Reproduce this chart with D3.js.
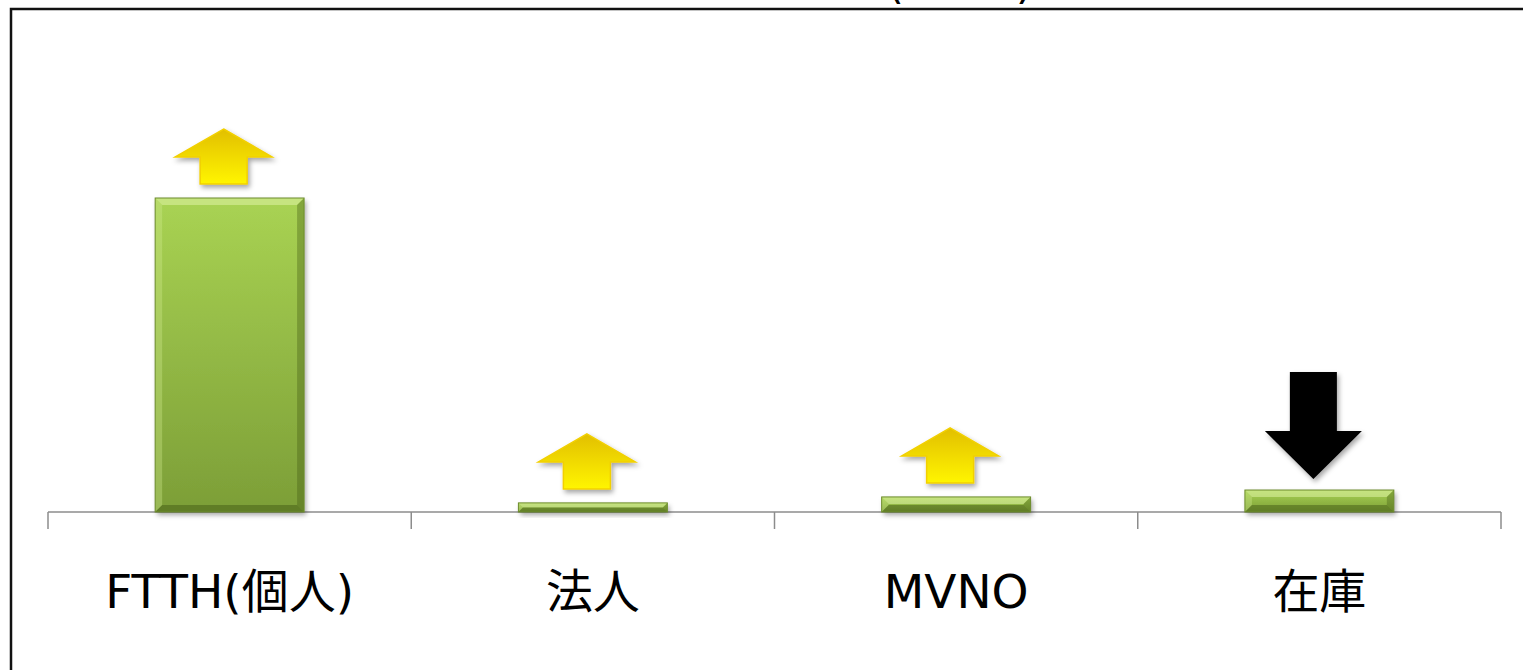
<!DOCTYPE html>
<html>
<head>
<meta charset="utf-8">
<script src="https://cdn.jsdelivr.net/npm/d3@7"></script>
<style>
  html, body { margin: 0; padding: 0; background: #fff; overflow: hidden; }
  svg { display: block; }
  text { font-family: "DejaVu Sans", "Noto Sans CJK JP", sans-serif; }
</style>
</head>
<body>
<svg id="chart"></svg>
<script>
// chart data
var categories = ["FTTH(個人)", "法人", "MVNO", "在庫"];
var values = [100, 2.9, 4.8, 7.0];
var trend = ["up", "up", "up", "down"];
var titleText = "(2013)";

var svgWidth = 1523, svgHeight = 670;
var margin = {top: 198, left: 48, right: 22, bottom: 158};

var svg = d3.select("#chart")
    .attr("width", svgWidth)
    .attr("height", svgHeight);

var defs = svg.append("defs");

// bar gradient
var gBar = defs.append("linearGradient").attr("id", "barGrad")
    .attr("x1", 0).attr("y1", 0).attr("x2", 0).attr("y2", 1);
gBar.append("stop").attr("offset", "0%").attr("stop-color", "#a9d353");
gBar.append("stop").attr("offset", "100%").attr("stop-color", "#7c9e37");

// up arrow gradient
var gUp = defs.append("linearGradient").attr("id", "upGrad")
    .attr("x1", 0).attr("y1", 0).attr("x2", 0).attr("y2", 1);
gUp.append("stop").attr("offset", "0%").attr("stop-color", "#e2bf00");
gUp.append("stop").attr("offset", "100%").attr("stop-color", "#fff500");

var shadow = defs.append("filter").attr("id", "shadow")
    .attr("x", "-20%").attr("y", "-20%").attr("width", "150%").attr("height", "180%");
shadow.append("feDropShadow")
    .attr("dx", 2).attr("dy", 3).attr("stdDeviation", 2.5)
    .attr("flood-color", "#000").attr("flood-opacity", 0.35);

// frame
svg.append("rect")
    .attr("x", 11).attr("y", 9)
    .attr("width", svgWidth + 20).attr("height", svgHeight + 20)
    .attr("fill", "none")
    .attr("stroke", "#111")
    .attr("stroke-width", 2.5);

// title (mostly above the visible area, as in the original)
svg.append("text")
    .attr("x", 1033).attr("y", -2)
    .attr("text-anchor", "end")
    .attr("font-size", 44)
    .attr("fill", "#000")
    .text(titleText);

var x = d3.scaleBand()
    .domain(categories)
    .range([margin.left, svgWidth - margin.right])
    .paddingInner(0.59)
    .paddingOuter(0.295);

var y = d3.scaleLinear()
    .domain([0, 100])
    .range([svgHeight - margin.bottom, margin.top]);

var base = y(0);
var step = x.step();
var bandStart = margin.left;

// axis line + ticks
var axisG = svg.append("g");
axisG.append("line")
    .attr("x1", bandStart).attr("x2", svgWidth - margin.right)
    .attr("y1", base).attr("y2", base)
    .attr("stroke", "#8c8c8c").attr("stroke-width", 1.5);
axisG.selectAll("line.tick")
    .data(d3.range(categories.length + 1))
    .enter().append("line")
    .attr("class", "tick")
    .attr("x1", function(i) { return bandStart + i * step; })
    .attr("x2", function(i) { return bandStart + i * step; })
    .attr("y1", base).attr("y2", base + 17)
    .attr("stroke", "#8c8c8c").attr("stroke-width", 1.5);

// bars
var bars = svg.selectAll("g.bar")
    .data(categories)
    .enter().append("g")
    .attr("class", "bar");

bars.each(function(c, i) {
    var g = d3.select(this);
    var x0 = x(c), w = x.bandwidth();
    var y0 = y(values[i]), h = base - y0;
    var b = Math.min(7, h / 2);

    g.append("rect")
        .attr("x", x0).attr("y", y0)
        .attr("width", w).attr("height", h)
        .attr("fill", "url(#barGrad)")
        .attr("filter", "url(#shadow)");

    // bevel edges
    var x1 = x0 + w, y1 = base;
    g.append("polygon")
        .attr("points", [[x0, y0], [x1, y0], [x1 - b, y0 + b], [x0 + b, y0 + b]].join(" "))
        .attr("fill", "#dff3a6").attr("opacity", 0.55);
    g.append("polygon")
        .attr("points", [[x0, y0], [x0 + b, y0 + b], [x0 + b, y1 - b], [x0, y1]].join(" "))
        .attr("fill", "#d2eb8e").attr("opacity", 0.35);
    g.append("polygon")
        .attr("points", [[x1, y0], [x1, y1], [x1 - b, y1 - b], [x1 - b, y0 + b]].join(" "))
        .attr("fill", "#3f5512").attr("opacity", 0.35);
    g.append("polygon")
        .attr("points", [[x0, y1], [x1, y1], [x1 - b, y1 - b], [x0 + b, y1 - b]].join(" "))
        .attr("fill", "#3f5512").attr("opacity", 0.45);
    g.append("rect")
        .attr("x", x0).attr("y", y0)
        .attr("width", w).attr("height", h)
        .attr("fill", "none")
        .attr("stroke", "#6d8c2c").attr("stroke-width", 1);

    // arrows
    var cx = x0 + w / 2 - 6;
    var headW = 97, headH = 28, shaftW = 47, shaftH = 27;
    var pts;
    if (trend[i] == "up") {
        var bot = y0 - 14;
        var top = bot - headH - shaftH;
        pts = [[cx, top], [cx + headW / 2, top + headH], [cx + shaftW / 2, top + headH],
               [cx + shaftW / 2, bot], [cx - shaftW / 2, bot], [cx - shaftW / 2, top + headH],
               [cx - headW / 2, top + headH]];
        g.append("polygon")
            .attr("points", pts.join(" "))
            .attr("fill", "url(#upGrad)")
            .attr("stroke", "#f2d000").attr("stroke-width", 1.5)
            .attr("filter", "url(#shadow)");
    } else {
        var tip = y0 - 11;
        var dHeadH = 48, dShaftH = 59;
        var sTop = tip - dHeadH - dShaftH;
        pts = [[cx - shaftW / 2, sTop], [cx + shaftW / 2, sTop], [cx + shaftW / 2, tip - dHeadH],
               [cx + headW / 2, tip - dHeadH], [cx, tip], [cx - headW / 2, tip - dHeadH],
               [cx - shaftW / 2, tip - dHeadH]];
        g.append("polygon")
            .attr("points", pts.join(" "))
            .attr("fill", "#000")
            .attr("filter", "url(#shadow)");
    }
});

// category labels
svg.selectAll("text.label")
    .data(categories)
    .enter().append("text")
    .attr("class", "label")
    .attr("x", function(c) { return x(c) + x.bandwidth() / 2; })
    .attr("y", base + 96)
    .attr("text-anchor", "middle")
    .attr("font-size", 47)
    .attr("fill", "#000")
    .text(function(c) { return c; });
</script>
</body>
</html>
